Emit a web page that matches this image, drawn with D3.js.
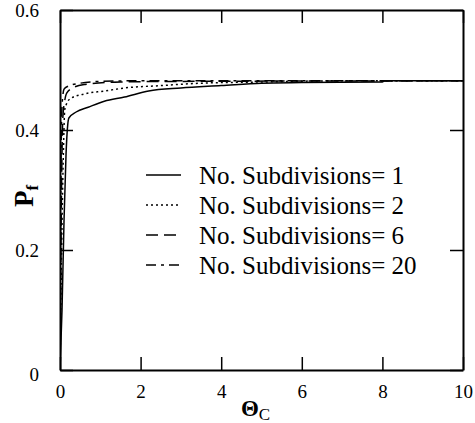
<!DOCTYPE html>
<html>
<head>
<meta charset="utf-8">
<script src="https://cdn.jsdelivr.net/npm/d3@7"></script>
<style>
  body { margin: 0; background: #fff; }
</style>
</head>
<body>
<div id="chart"></div>
<script>
// values
var theta1 = [0, 0.05, 0.1, 0.15, 0.22, 0.4, 0.7, 1.1, 1.6, 2.2, 3, 4, 5, 6, 8, 8.05, 10];
var pf1    = [0, 0.1, 0.25, 0.36, 0.42, 0.43, 0.438, 0.448, 0.455, 0.465, 0.47, 0.474, 0.478, 0.479, 0.48, 0.482, 0.482];

var theta2 = [0, 0.04, 0.08, 0.12, 0.25, 0.6, 1.1, 1.6, 2.5, 3.5, 5, 7, 10];
var pf2    = [0, 0.2, 0.35, 0.435, 0.452, 0.46, 0.465, 0.47, 0.474, 0.478, 0.48, 0.482, 0.482];

var theta6 = [0, 0.03, 0.07, 0.12, 0.17, 0.37, 0.62, 1.5, 3, 10];
var pf6    = [0, 0.25, 0.42, 0.45, 0.462, 0.472, 0.476, 0.48, 0.481, 0.482];

var theta20 = [0, 0.02, 0.05, 0.1, 0.2, 0.5, 1, 2, 10];
var pf20    = [0, 0.3, 0.44, 0.468, 0.473, 0.478, 0.481, 0.482, 0.482];

var seriesNames = ["No. Subdivisions= 1", "No. Subdivisions= 2", "No. Subdivisions= 6", "No. Subdivisions= 20"];
var xTicks = [0, 2, 4, 6, 8, 10];
var yTicks = [0, 0.2, 0.4, 0.6];

var width = 475, height = 423;
var margin = {left: 60, right: 12, top: 10, bottom: 53};
var serif = "Liberation Serif, Times New Roman, Times, Tinos, Nimbus Roman, FreeSerif, Noto Serif, DejaVu Serif, serif";

var svg = d3.select("#chart").append("svg")
  .attr("width", width)
  .attr("height", height)
  .attr("font-family", serif);

var x = d3.scaleLinear().domain([0, 10]).range([margin.left, width - margin.right]);
var y = d3.scaleLinear().domain([0, 0.6]).range([height - margin.bottom, margin.top]);

var series = [
  {name: seriesNames[0], xs: theta1, ys: pf1, dash: null},
  {name: seriesNames[1], xs: theta2, ys: pf2, dash: "2,3"},
  {name: seriesNames[2], xs: theta6, ys: pf6, dash: "12,6"},
  {name: seriesNames[3], xs: theta20, ys: pf20, dash: "10,5,3,5"}
];

svg.append("clipPath").attr("id", "clip")
  .append("rect")
  .attr("x", x(0)).attr("y", y(0.6))
  .attr("width", x(10) - x(0)).attr("height", y(0) - y(0.6));

var line = d3.line()
  .x(function(d) { return x(d[0]); })
  .y(function(d) { return y(d[1]); })
  .curve(d3.curveMonotoneX);

svg.append("g").attr("clip-path", "url(#clip)")
  .selectAll("path")
  .data(series)
  .enter().append("path")
  .attr("d", function(s) { return line(s.xs.map(function(v, i) { return [v, s.ys[i]]; })); })
  .attr("fill", "none")
  .attr("stroke", "#000")
  .attr("stroke-width", 1.5)
  .attr("stroke-dasharray", function(s) { return s.dash; });

// axes, ticks pointing inward
var tickLen = 13;
var axBottom = svg.append("g")
  .attr("transform", "translate(0," + y(0) + ")")
  .call(d3.axisBottom(x).tickValues(xTicks).tickSizeInner(-tickLen).tickSizeOuter(0).tickPadding(tickLen + 2)
    .tickFormat(d3.format("d")));
var axTop = svg.append("g")
  .attr("transform", "translate(0," + y(0.6) + ")")
  .call(d3.axisTop(x).tickValues(xTicks).tickSizeInner(-tickLen).tickSizeOuter(0).tickFormat(""));
var axLeft = svg.append("g")
  .attr("transform", "translate(" + x(0) + ",0)")
  .call(d3.axisLeft(y).tickValues(yTicks).tickSizeInner(-tickLen).tickSizeOuter(0).tickPadding(tickLen + 8)
    .tickFormat(function(d) { return d === 0 ? "0" : d3.format(".1f")(d); }));
var axRight = svg.append("g")
  .attr("transform", "translate(" + x(10) + ",0)")
  .call(d3.axisRight(y).tickValues(yTicks).tickSizeInner(-tickLen).tickSizeOuter(0).tickFormat(""));

[axBottom, axTop, axLeft, axRight].forEach(function(g) {
  g.attr("font-family", serif).attr("font-size", 19);
  g.select(".domain").attr("stroke", "#000").attr("stroke-width", 2);
  g.selectAll(".tick line").attr("stroke", "#000").attr("stroke-width", 1.5);
  g.selectAll(".tick text").attr("fill", "#000");
});
axLeft.selectAll(".tick text").attr("dy", "0.32em");
axLeft.selectAll(".tick").filter(function(d) { return d === 0; }).select("text").attr("dy", "0.55em");

// axis titles
var xt = svg.append("text")
  .attr("x", x(5) - 6)
  .attr("y", 416)
  .attr("text-anchor", "middle")
  .attr("font-size", 23);
xt.append("tspan").attr("font-weight", "bold").text("\u0398");
xt.append("tspan").attr("dy", 4).attr("font-size", 17).text("C");

var yt = svg.append("text")
  .attr("transform", "translate(33," + y(0.29) + ") rotate(-90)")
  .attr("text-anchor", "middle")
  .attr("font-size", 27)
  .attr("font-weight", "bold");
yt.append("tspan").text("P");
yt.append("tspan").attr("dy", 5).attr("font-size", 17).text("f");

// legend
var legend = svg.append("g")
  .selectAll("g")
  .data(series)
  .enter().append("g")
  .attr("transform", function(d, i) { return "translate(0," + (175 + i * 30) + ")"; });

legend.append("line")
  .attr("x1", 146).attr("x2", 181)
  .attr("stroke", "#000")
  .attr("stroke-width", 1.5)
  .attr("stroke-dasharray", function(d) { return d.dash; });

legend.append("text")
  .attr("x", 199)
  .attr("dy", "0.35em")
  .attr("font-size", 25)
  .text(function(d) { return d.name; });
</script>
</body>
</html>
